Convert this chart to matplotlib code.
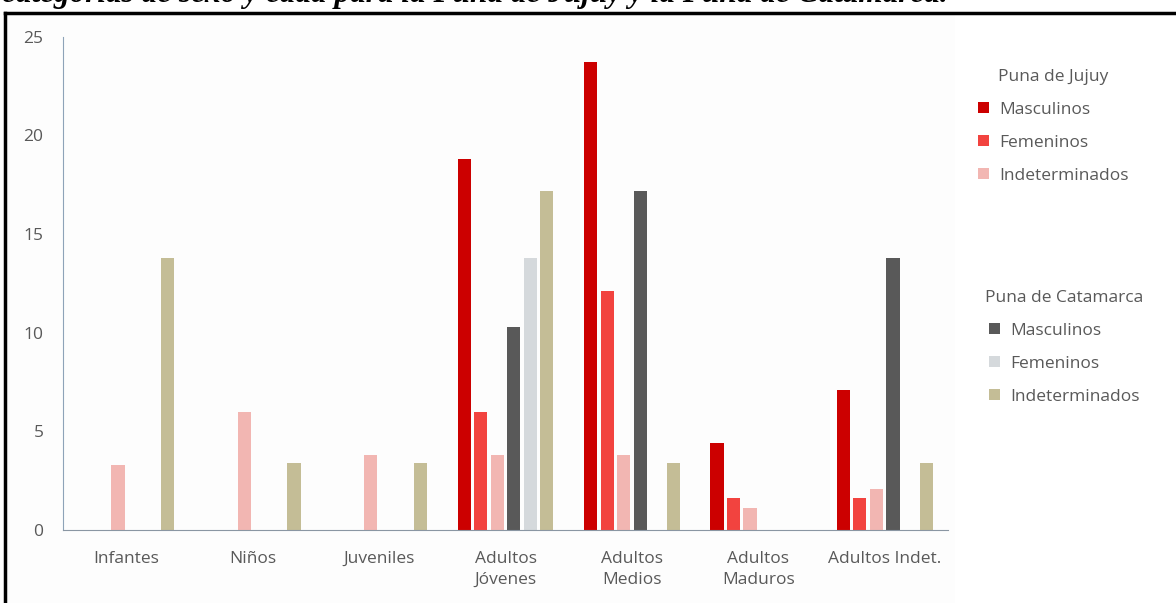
import numpy as np
import matplotlib
matplotlib.use("Agg")
import matplotlib.pyplot as plt
from matplotlib.lines import Line2D
from matplotlib.patches import Rectangle

# age categories and percentages per sex group
categorias = ["Infantes", "Niños", "Juveniles", "Adultos\nJóvenes",
              "Adultos\nMedios", "Adultos\nMaduros", "Adultos Indet."]

jujuy_masc = [0, 0, 0, 18.8, 23.7, 4.4, 7.1]
jujuy_fem = [0, 0, 0, 6.0, 12.1, 1.6, 1.6]
jujuy_indet = [3.3, 6.0, 3.8, 3.8, 3.8, 1.1, 2.1]
cata_masc = [0, 0, 0, 10.3, 17.2, 0, 13.8]
cata_fem = [0, 0, 0, 13.8, 0, 0, 0]
cata_indet = [13.8, 3.4, 3.4, 17.2, 3.4, 0, 3.4]

series = [jujuy_masc, jujuy_fem, jujuy_indet, cata_masc, cata_fem, cata_indet]
nombres = ["Masculinos", "Femeninos", "Indeterminados"] * 2
colores = ["#CC0000", "#F2433F", "#F2B6B2", "#595959", "#D5D9DC", "#C4BD96"]

yticks = [0, 5, 10, 15, 20, 25]

plt.rcParams["font.family"] = ["Open Sans", "DejaVu Sans"]
txt = "#595959"
fs = 12.5

fig = plt.figure(figsize=(11.76, 6.03), dpi=100)

# faint panel behind the plot area
fig.add_artist(Rectangle((0.005, 0.0), 0.807, 0.975, transform=fig.transFigure,
                         facecolor="#FDFDFD", edgecolor="none", zorder=0))

ax = fig.add_axes([0.0536, 0.121, 0.7525, 0.818])
ax.patch.set_alpha(0)

x = np.arange(len(categorias))
step = 0.131
width = 0.104
bars = []
for i, (vals, col) in enumerate(zip(series, colores)):
    b = ax.bar(x + (i - 2.5) * step, vals, width, color=col)
    bars.append(b)

ax.set_xlim(-0.5, len(categorias) - 0.5)
ax.set_ylim(0, 25)
ax.set_yticks(yticks)
ax.set_xticks(x)
ax.set_xticklabels(categorias, fontsize=fs, color=txt, linespacing=1.45)
ax.tick_params(axis="both", length=0, labelsize=fs, labelcolor=txt)
ax.tick_params(axis="y", pad=14)
ax.tick_params(axis="x", pad=15)
for s in ["top", "right"]:
    ax.spines[s].set_visible(False)
ax.spines["left"].set_color("#8EA3B8")
ax.spines["bottom"].set_color("#8A96A3")

# two legends, one per region
leg_kw = dict(frameon=False, fontsize=fs, labelcolor=txt, handlelength=0.6,
              handleheight=0.6, handletextpad=0.6, labelspacing=0.98,
              title_fontsize=fs, borderaxespad=0)
leg1 = fig.legend(bars[:3], nombres[:3], title="Puna de Jujuy",
                  loc="upper left", bbox_to_anchor=(0.826, 0.897), **leg_kw)
leg1.get_title().set_color(txt)
leg2 = fig.legend(bars[3:], nombres[3:], title="Puna de Catamarca",
                  loc="upper left", bbox_to_anchor=(0.832, 0.531), **leg_kw)
leg2.get_title().set_color(txt)

# caption above the frame
fig.text(0.002, 0.997, "categorías de sexo y edad para la Puna de Jujuy y la Puna de Catamarca.",
         family="Liberation Serif", style="italic", weight="bold", fontsize=22.5,
         va="baseline", ha="left")

# frame around the figure
fig.add_artist(Line2D([0.004, 1.0], [0.978, 0.978], color="black", lw=2.5,
                      transform=fig.transFigure))
fig.add_artist(Line2D([0.004, 0.004], [0.0, 0.978], color="black", lw=2.5,
                      transform=fig.transFigure))

fig.savefig("out.png", dpi=100)
